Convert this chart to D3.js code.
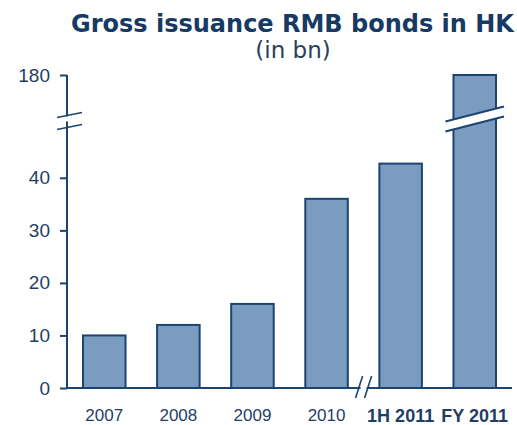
<!DOCTYPE html>
<html>
<head>
<meta charset="utf-8">
<script src="https://cdn.jsdelivr.net/npm/d3@7"></script>
<style>
  html, body { margin: 0; padding: 0; background: #fff; }
  svg { display: block; }
</style>
</head>
<body>
<script>
// ---- data ----
const categories = ["2007", "2008", "2009", "2010", "1H 2011", "FY 2011"];
const values = [10, 12, 16, 36, 42.7, 180];
const boldCategories = ["1H 2011", "FY 2011"];
const yTickValues = [0, 10, 20, 30, 40, 180];
const titleText = "Gross issuance RMB bonds in HK";
const subtitleText = "(in bn)";

// ---- layout ----
const W = 517, H = 425;
const navy = "#1c4470";
const textColor = "#1f3e66";
const fill = "#7a9cc0";

const svg = d3.select("body").append("svg").attr("width", W).attr("height", H);

const x = d3.scaleBand().domain(categories).range([67, 512])
  .paddingInner(0.426).paddingOuter(0.216);
const y = d3.scaleLinear().domain([0, 51, 180]).range([388, 120, 75]);

// title
svg.append("text").attr("x", 292.5).attr("y", 32).attr("text-anchor", "middle")
  .attr("font-family", "DejaVu Sans").attr("font-weight", "bold")
  .attr("font-size", 24).attr("fill", "#163a63").text(titleText);
svg.append("text").attr("x", 293).attr("y", 58).attr("text-anchor", "middle")
  .attr("font-family", "DejaVu Sans").attr("font-size", 23)
  .attr("fill", "#2a3f5a").text(subtitleText);

// bars
svg.append("g").selectAll("rect").data(categories).join("rect")
  .attr("x", d => x(d))
  .attr("width", x.bandwidth())
  .attr("y", (d, i) => y(values[i]))
  .attr("height", (d, i) => y(0) - y(values[i]))
  .attr("fill", fill).attr("stroke", navy).attr("stroke-width", 2);

// bar break on last bar
const last = categories[categories.length - 1];
const bx0 = x(last) - 8, bx1 = x(last) + x.bandwidth() + 8;
const byMid = 119, slope = -15 / 59, gap = 5;
const yAt = (xx, off) => byMid + off + slope * (xx - (bx0 + bx1) / 2);
svg.append("path")
  .attr("d", `M${bx0},${yAt(bx0, -gap)} L${bx1},${yAt(bx1, -gap)} L${bx1},${yAt(bx1, gap)} L${bx0},${yAt(bx0, gap)} Z`)
  .attr("fill", "#fff");
[-gap, gap].forEach(off => {
  svg.append("line").attr("x1", bx0).attr("y1", yAt(bx0, off))
    .attr("x2", bx1).attr("y2", yAt(bx1, off))
    .attr("stroke", navy).attr("stroke-width", 2);
});

// y axis
const yAxis = d3.axisLeft(y).tickValues(yTickValues).tickSize(7).tickPadding(10)
  .tickFormat(d3.format("d"));
const gy = svg.append("g").attr("transform", "translate(67,0)").call(yAxis);
gy.select(".domain").remove();
gy.selectAll(".tick line").attr("stroke", navy).attr("stroke-width", 2);
gy.selectAll(".tick text").attr("font-family", "Liberation Sans")
  .attr("font-size", 19).attr("fill", textColor);

// y axis line with break
const ax = 67;
svg.append("line").attr("x1", ax).attr("x2", ax).attr("y1", y(180)).attr("y2", 116.5)
  .attr("stroke", navy).attr("stroke-width", 2);
svg.append("line").attr("x1", ax).attr("x2", ax).attr("y1", 121.5).attr("y2", y(0))
  .attr("stroke", navy).attr("stroke-width", 2);
[-6, 6].forEach(off => {
  svg.append("line").attr("x1", 57).attr("y1", 121 + off + 2.5)
    .attr("x2", 82).attr("y2", 121 + off - 2.5)
    .attr("stroke", navy).attr("stroke-width", 1.6);
});

// x axis with break
const step = x.step();
const xBreak = x("1H 2011") - (step - x.bandwidth()) / 2;
const xAxis = d3.axisBottom(x).tickSize(0).tickPadding(21);
const gx = svg.append("g").attr("transform", `translate(0,${y(0)})`).call(xAxis);
gx.select(".domain").remove();
gx.selectAll(".tick text").attr("font-family", "Liberation Sans")
  .attr("font-size", d => boldCategories.includes(d) ? 18 : 17)
  .attr("font-weight", d => boldCategories.includes(d) ? "bold" : "normal")
  .attr("fill", textColor);

svg.append("line").attr("x1", ax).attr("x2", xBreak - 3).attr("y1", y(0)).attr("y2", y(0))
  .attr("stroke", navy).attr("stroke-width", 2);
svg.append("line").attr("x1", xBreak + 3).attr("x2", 512).attr("y1", y(0)).attr("y2", y(0))
  .attr("stroke", navy).attr("stroke-width", 2);
[-4.5, 4.5].forEach(off => {
  svg.append("line").attr("x1", xBreak + off - 3.5).attr("y1", y(0) + 10)
    .attr("x2", xBreak + off + 3.5).attr("y2", y(0) - 12)
    .attr("stroke", navy).attr("stroke-width", 1.6);
});
</script>
</body>
</html>
